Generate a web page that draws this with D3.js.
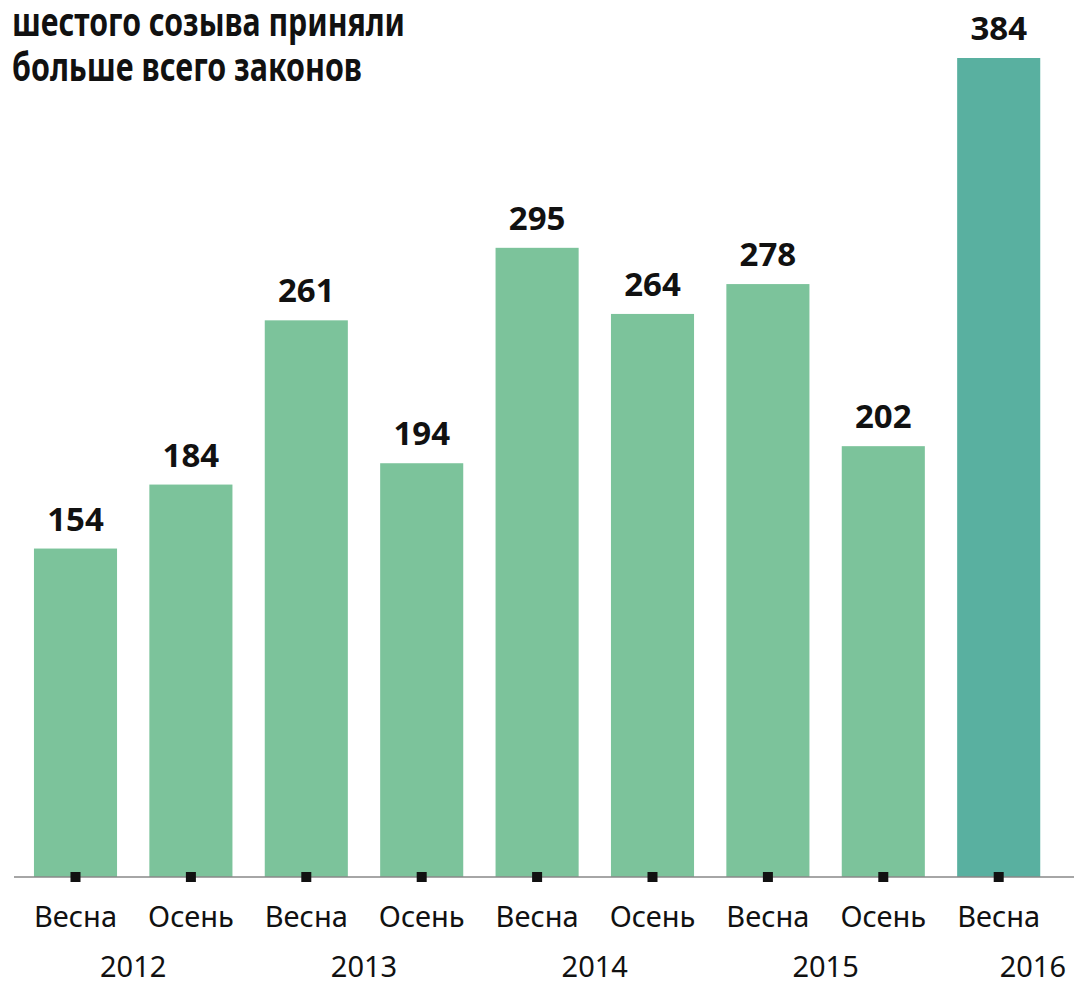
<!DOCTYPE html>
<html>
<head>
<meta charset="utf-8">
<script src="https://cdn.jsdelivr.net/npm/d3@7"></script>
<style>
body{margin:0;background:#fff;}
svg{display:block;}
text{font-family:"Noto Sans",sans-serif;fill:#111;}
</style>
</head>
<body>
<div id="chart"></div>
<script>
(function(){

const titleLines = ["шестого созыва приняли","больше всего законов"];
const seasons = ["Весна","Осень","Весна","Осень","Весна","Осень","Весна","Осень","Весна"];
const periods = ["2012-1","2012-2","2013-1","2013-2","2014-1","2014-2","2015-1","2015-2","2016-1"];
const values = [154,184,261,194,295,264,278,202,384];
const years = ["2012","2013","2014","2015","2016"];

const width = 1074;
const height = 985;
const baseY = 877;

const svg = d3.select("#chart")
.append("svg")
.attr("width",width)
.attr("height",height);

const data = periods.map((p,i)=>({period:p,season:seasons[i],value:values[i]}));

const x = d3.scaleBand()
.domain(periods)
.range([17.8,1056.4])
.paddingInner(0.28)
.paddingOuter(0.14);

const y = d3.scaleLinear()
.domain([0,384])
.range([baseY,58]);

// title (its first line is cut off at the top in the original)
svg.selectAll("text.title")
.data(titleLines)
.enter()
.append("text")
.attr("class","title")
.attr("x",12)
.attr("y",(d,i)=>36+i*45)
.attr("font-size",39)
.attr("font-weight","bold")
.attr("textLength",(d,i)=>i==0?393:350)
.attr("lengthAdjust","spacingAndGlyphs")
.text(d=>d);

svg.selectAll("rect.bar")
.data(data)
.enter()
.append("rect")
.attr("class","bar")
.attr("x",d=>x(d.period))
.attr("y",d=>y(d.value))
.attr("width",x.bandwidth())
.attr("height",d=>baseY-y(d.value))
.attr("fill",(d,i)=>i==data.length-1?"#59b0a0":"#7cc39b");

svg.selectAll("text.val")
.data(data)
.enter()
.append("text")
.attr("class","val")
.attr("x",d=>x(d.period)+x.bandwidth()/2)
.attr("y",d=>y(d.value)-18)
.attr("text-anchor","middle")
.attr("font-size",33)
.attr("font-weight","bold")
.text(d=>d.value);

// axis with season labels
const axis = svg.append("g")
.attr("transform",`translate(0,${baseY})`)
.call(d3.axisBottom(x).tickSize(0).tickFormat((d,i)=>seasons[i]));

axis.select(".domain").remove();
axis.selectAll(".tick text")
.attr("font-size",29)
.attr("font-family","Noto Sans")
.attr("fill","#1a1a1a")
.attr("dy",0)
.attr("y",50);

svg.append("line")
.attr("x1",14)
.attr("x2",width)
.attr("y1",baseY)
.attr("y2",baseY)
.attr("stroke","#888")
.attr("stroke-width",1.5);

svg.selectAll("rect.tick")
.data(data)
.enter()
.append("rect")
.attr("class","tick")
.attr("x",d=>x(d.period)+x.bandwidth()/2-5)
.attr("y",baseY-5)
.attr("width",10)
.attr("height",10)
.attr("fill","#111");

// year labels between spring and autumn
svg.selectAll("text.year")
.data(years)
.enter()
.append("text")
.attr("class","year")
.attr("x",d=>{
  const a = x(d+"-1")+x.bandwidth()/2;
  if(periods.includes(d+"-2")) return (a+x(d+"-2")+x.bandwidth()/2)/2;
  return width-8;
})
.attr("y",977)
.attr("text-anchor",d=>periods.includes(d+"-2")?"middle":"end")
.attr("font-size",29)
.attr("fill","#1a1a1a")
.text(d=>d);

})();
</script>
</body>
</html>
